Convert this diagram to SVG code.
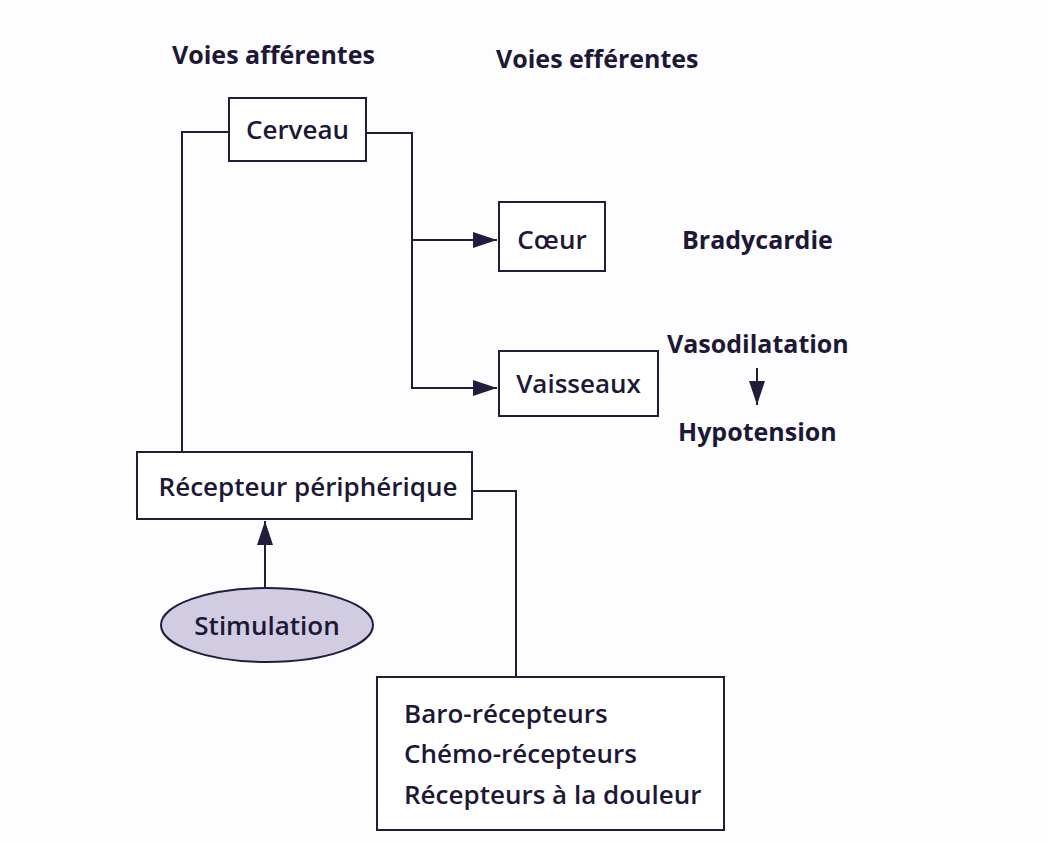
<svg xmlns="http://www.w3.org/2000/svg" width="1048" height="843" viewBox="0 0 1048 843">
  <style>
    .box { fill: #ffffff; stroke: #231d3d; stroke-width: 2; }
    .wire { fill: none; stroke: #231d3d; stroke-width: 2; }
    .txt { font-family: "Open Sans", "Liberation Sans", sans-serif; font-size: 26px; fill: #1d1836; font-weight: 600; }
    .head { font-family: "Open Sans", "Liberation Sans", sans-serif; font-size: 25px; fill: #1d1836; font-weight: 700; }
    .lbl { font-family: "Open Sans", "Liberation Sans", sans-serif; font-size: 25px; fill: #1d1836; font-weight: 700; }
  </style>
  <defs>
    <marker id="arrowBig" viewBox="0 0 24 16" refX="24" refY="8" markerWidth="24" markerHeight="16" markerUnits="userSpaceOnUse" orient="auto">
      <path d="M0,0 L24,8 L0,16 z" fill="#231d3d"/>
    </marker>
  </defs>

  <rect width="1048" height="843" fill="#fdfcff"/>

  <!-- column headings -->
  <g id="headings">
    <text class="head" x="172" y="64">Voies afférentes</text>
    <text class="head" x="496" y="68">Voies efférentes</text>
  </g>

  <!-- connectors -->
  <g id="connectors">
    <!-- afferent path: receptor up to brain -->
    <polyline class="wire" points="182,452 182,132 229,132"/>
    <!-- efferent path: brain down to heart and vessels -->
    <polyline class="wire" points="366,133 412,133 412,388 497,388" marker-end="url(#arrowBig)"/>
    <line class="wire" x1="412" y1="240" x2="497" y2="240" marker-end="url(#arrowBig)"/>
    <!-- stimulation to receptor -->
    <line class="wire" x1="265" y1="589" x2="265" y2="521" marker-end="url(#arrowBig)"/>
    <!-- receptor to receptor types -->
    <polyline class="wire" points="472,491 516,491 516,677"/>
    <!-- vasodilatation leads to hypotension -->
    <line class="wire" x1="757" y1="368" x2="757" y2="405" marker-end="url(#arrowBig)"/>
  </g>

  <g id="cerveau">
    <rect class="box" x="229" y="98" width="137" height="63"/>
    <text class="txt" x="297.5" y="139" text-anchor="middle">Cerveau</text>
  </g>

  <g id="coeur">
    <rect class="box" x="499" y="202" width="106" height="69"/>
    <text class="txt" x="552" y="249" text-anchor="middle">Cœur</text>
  </g>

  <g id="vaisseaux">
    <rect class="box" x="499" y="351" width="159" height="65"/>
    <text class="txt" x="578.5" y="393" text-anchor="middle">Vaisseaux</text>
  </g>

  <g id="bradycardie">
    <text class="lbl" x="682" y="249">Bradycardie</text>
  </g>

  <g id="vasodilatation">
    <text class="lbl" x="667" y="353">Vasodilatation</text>
  </g>

  <g id="hypotension">
    <text class="lbl" x="678" y="441">Hypotension</text>
  </g>

  <g id="recepteur">
    <rect class="box" x="137" y="452" width="335" height="67"/>
    <text class="txt" x="308" y="496" text-anchor="middle">Récepteur périphérique</text>
  </g>

  <g id="stimulation">
    <ellipse cx="267" cy="625" rx="106" ry="37" fill="#d2cce3" stroke="#231d3d" stroke-width="2"/>
    <text class="txt" x="267" y="635" text-anchor="middle">Stimulation</text>
  </g>

  <g id="types-recepteurs">
    <rect class="box" x="377" y="677" width="347" height="153"/>
    <text class="txt" x="404" y="723">Baro-récepteurs</text>
    <text class="txt" x="404" y="763">Chémo-récepteurs</text>
    <text class="txt" x="404" y="804">Récepteurs à la douleur</text>
  </g>
</svg>
